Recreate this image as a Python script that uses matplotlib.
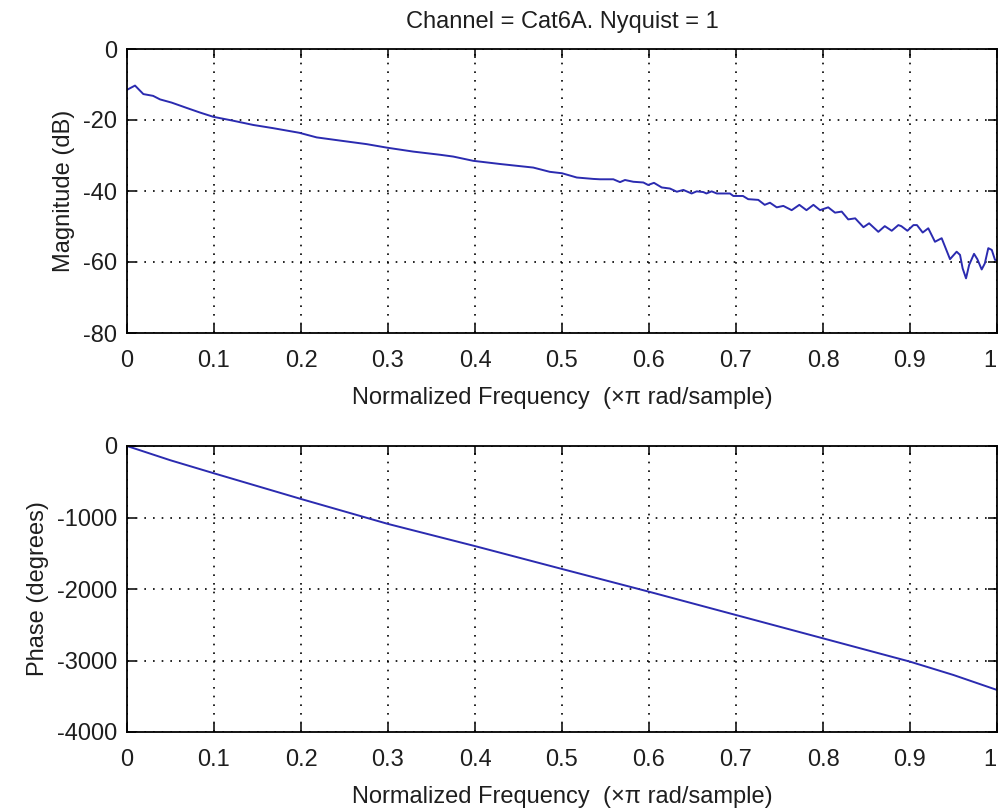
import matplotlib
matplotlib.use("Agg")
import matplotlib.pyplot as plt
from matplotlib.transforms import ScaledTranslation

# ---- data ----
mag_freq = [0.0, 0.0092, 0.0188, 0.030, 0.038, 0.0513, 0.0686, 0.0839, 0.0992, 0.122,
            0.1452, 0.168, 0.198, 0.218, 0.245, 0.2755, 0.299, 0.329, 0.36, 0.375,
            0.398, 0.429, 0.467, 0.486, 0.5, 0.517, 0.536,
            0.5437, 0.559, 0.5667, 0.5724, 0.582, 0.5935, 0.599, 0.6057, 0.6146, 0.624,
            0.632, 0.6395, 0.649, 0.6548, 0.6625, 0.666, 0.672, 0.678, 0.693, 0.697,
            0.708, 0.714, 0.7256, 0.733, 0.739, 0.7468, 0.7544, 0.764, 0.7728, 0.781,
            0.789, 0.7966, 0.806, 0.8138,
            0.8215, 0.829, 0.837, 0.8465, 0.853,
            0.8636, 0.871, 0.879, 0.8866, 0.890, 0.897, 0.904, 0.908, 0.9146, 0.921,
            0.9287, 0.9364, 0.946, 0.9536, 0.9575, 0.9605, 0.9644, 0.968, 0.9736, 0.9774,
            0.9824, 0.986, 0.990, 0.994, 0.9977, 1.0]
mag_db = [-11.5, -10.3, -12.7, -13.2, -14.2, -15.1, -16.6, -17.9, -19.1, -20.2,
          -21.4, -22.3, -23.6, -24.9, -25.8, -26.8, -27.8, -28.9, -29.8, -30.3,
          -31.5, -32.4, -33.4, -34.6, -35.0, -36.2, -36.6,
          -36.7, -36.7, -37.5, -36.9, -37.4, -37.6, -38.3, -37.7, -39.0, -39.3,
          -40.2, -39.7, -40.7, -40.1, -40.3, -40.7, -40.1, -40.7, -40.7, -41.4,
          -41.4, -42.3, -42.5, -43.9, -43.3, -44.6, -44.2, -45.4, -43.9, -45.4,
          -43.9, -45.4, -44.6, -46.1,
          -45.8, -48.0, -47.7, -50.2, -49.1,
          -51.5, -49.9, -51.2, -49.6, -49.9, -51.2, -49.6, -49.6, -51.7, -50.5,
          -54.3, -53.3, -59.2, -57.1, -58.0, -61.8, -64.6, -60.8, -57.7, -59.2,
          -62.1, -60.4, -56.1, -56.6, -59.4, -59.5]

phase_freq = [0.0, 0.05, 0.1, 0.2, 0.3, 0.4, 0.5, 0.6, 0.7, 0.8, 0.9, 0.95, 1.0]
phase_deg = [0, -200, -382, -741, -1090, -1400, -1720, -2038, -2364, -2690, -3016, -3203, -3412]

xticks = [0, 0.1, 0.2, 0.3, 0.4, 0.5, 0.6, 0.7, 0.8, 0.9, 1]
xticklabels = ["0", "0.1", "0.2", "0.3", "0.4", "0.5", "0.6", "0.7", "0.8", "0.9", "1"]
mag_yticks = [-80, -60, -40, -20, 0]
phase_yticks = [-4000, -3000, -2000, -1000, 0]

title = "Channel = Cat6A. Nyquist = 1"
xlabel = "Normalized Frequency  (\u00d7\u03c0 rad/sample)"

plt.rcParams['font.family'] = ['Liberation Sans', 'DejaVu Sans']
plt.rcParams['axes.unicode_minus'] = False
FS = 17
TXT = '#1e1e1e'
LINE_COLOR = '#2b2bb0'

fig = plt.figure(figsize=(9.99, 8.11), dpi=100)
ax1 = fig.add_axes([127/999, 1 - 333/811, 870/999, 284/811])
ax2 = fig.add_axes([127/999, 1 - 732/811, 870/999, 286/811])

def style(ax, yticks):
    ax.set_xlim(0, 1)
    ax.set_xticks(xticks)
    ax.set_xticklabels(xticklabels)
    ax.set_yticks(yticks)
    ax.set_yticklabels([str(v) for v in yticks])
    ax.grid(True, color='black', linestyle=(0, (1, 4.2)), linewidth=1.2)
    ax.tick_params(direction='in', top=True, right=True, length=6.5, width=1.1,
                   labelsize=FS, colors='black', labelcolor=TXT)
    ax.tick_params(axis='x', pad=12)
    ax.tick_params(axis='y', pad=7)
    for s in ax.spines.values():
        s.set_linewidth(1.3)
        s.set_color('black')
    ax.set_xlabel(xlabel, fontsize=FS, color=TXT, labelpad=11)
    # keep the last tick label "1" inside the picture
    last = ax.get_xticklabels()[-1]
    last.set_transform(last.get_transform() +
                       ScaledTranslation(-7/100, 0, fig.dpi_scale_trans))

ax1.plot(mag_freq, mag_db, color=LINE_COLOR, linewidth=1.4)
ax1.set_ylim(-80, 0)
style(ax1, mag_yticks)
ax1.set_ylabel("Magnitude (dB)", fontsize=FS, color=TXT, labelpad=6)
ax1.set_title(title, fontsize=FS, color=TXT, pad=15)

ax2.plot(phase_freq, phase_deg, color=LINE_COLOR, linewidth=1.4)
ax2.set_ylim(-4000, 0)
style(ax2, phase_yticks)
ax2.set_ylabel("Phase (degrees)", fontsize=FS, color=TXT, labelpad=6)

fig.savefig("out.png", dpi=100, facecolor='white')
